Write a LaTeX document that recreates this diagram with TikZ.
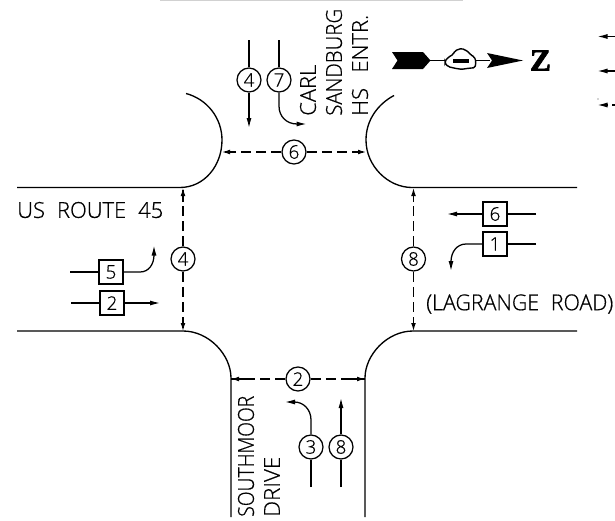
\documentclass[tikz,border=0pt]{standalone}
\usepackage{fontspec}
\usepackage{graphicx}
\usetikzlibrary{arrows.meta,calc}
\setmainfont{Open Sans}[UprightFont=* Light,UprightFeatures={FakeBold=0.6}]
\newfontfamily\zfont{Liberation Serif}[UprightFont=* Bold,UprightFeatures={FakeBold=2}]
\newlength{\pxu}\setlength{\pxu}{0.75pt}
\newcommand{\cadt}[2]{\resizebox{#1\pxu}{\height}{#2}}
\tikzset{
  x=0.75pt,y=-0.75pt,
  road/.style={line width=1pt,black},
  lane/.style={line width=0.95pt,black},
  mv/.style={lane,-{Latex[length=7.5pt,width=3.8pt]}},
  cross/.style={line width=0.85pt,black,dash pattern=on 7.5pt off 4pt},
  crosstip/.style={line width=0.85pt,black,-{Latex[length=6pt,width=3.6pt]}},
  phase/.style={circle,draw,line width=0.95pt,fill=white,minimum size=18pt,inner sep=0pt,font=\fontsize{14pt}{15pt}\selectfont},
  sq/.style={rectangle,draw,line width=0.95pt,fill=white,minimum size=18pt,inner sep=0pt,font=\fontsize{14pt}{15pt}\selectfont},
  lab/.style={inner sep=0pt,font=\fontsize{16.5pt}{17pt}\selectfont},
  vlab/.style={lab,rotate=90,anchor=west},
}
\begin{document}
\begin{tikzpicture}
\useasboundingbox (0,0) rectangle (615,521);
\fill[white] (0,0) rectangle (615,521);
\coordinate (topA) at (160,0.7); \coordinate (topB) at (463,0.7);
\draw[line width=1pt,black!18] (topA) -- (topB);

% curbs
\draw[road] (17,187.5) -- (180,187.5) .. controls (204,187.5) and (222,166) .. (222,140) .. controls (222,118) and (207,99) .. (186,93.5);
\draw[road] (577,187.5) -- (412,187.5) .. controls (388,187.5) and (366,166) .. (366,140) .. controls (366,120) and (378,104) .. (394,95.5);
\draw[road] (17,331) -- (183,331) .. controls (209,331) and (231,355) .. (231,378) -- (231,517);
\draw[road] (577,331) -- (413,331) .. controls (387,331) and (365,355) .. (365,378) -- (365,517);

% pedestrian crossings
\coordinate (cN1) at (222,152); \coordinate (cN2) at (366,152);
\coordinate (cW1) at (183,188); \coordinate (cW2) at (183,331);
\coordinate (cE1) at (413.5,188); \coordinate (cE2) at (413.5,331);
\coordinate (cS1) at (231,379); \coordinate (cS2) at (365,379);
\node[phase] (pN) at (294,152) {6};
\node[phase] (pW) at (183,259) {4};
\node[phase] (pE) at (413.5,259) {8};
\node[phase] (pS) at (298,379) {2};
\foreach \a/\b in {cN1/pN,cN2/pN,cW1/pW,cW2/pW,cE1/pE,cE2/pE,cS1/pS,cS2/pS}{
  \draw[cross] (\b) -- (\a);
  \draw[crosstip] ($(\a)!14\pxu!(\b)$) -- (\a);
}

% north approach
\node[phase] (n4) at (249,80) {4};
\node[phase] (n7) at (279,80) {7};
\coordinate (n4a) at (249,40); \coordinate (n4b) at (249,128);
\coordinate (n7a) at (279,40); \coordinate (n7b) at (306.5,124);
\draw[lane] (n4a) -- (n4);
\draw[mv] (n4) -- (n4b);
\draw[lane] (n7a) -- (n7);
\draw[mv] (n7) -- (279,106) .. controls (279,117) and (287,124) .. (n7b);

% south approach
\node[phase] (s3) at (311,447) {3};
\node[phase] (s8) at (341,447) {8};
\coordinate (s3a) at (311,487); \coordinate (s8a) at (341,487);
\coordinate (s3b) at (285,402); \coordinate (s8b) at (341,398);
\draw[lane] (s3a) -- (s3);
\draw[lane] (s8a) -- (s8);
\draw[mv] (s8) -- (s8b);
\draw[mv] (s3) -- (311,420) .. controls (311,409) and (303,402) .. (s3b);

% west approach
\node[sq] (w5) at (111,272) {5};
\node[sq] (w2) at (112,303) {2};
\coordinate (w5a) at (70,272); \coordinate (w2a) at (71,303);
\coordinate (w5b) at (154,245.5); \coordinate (w2b) at (160,303);
\draw[lane] (w5a) -- (w5);
\draw[lane] (w2a) -- (w2);
\draw[mv] (w2) -- (w2b);
\draw[mv] (w5) -- (140,272) .. controls (149,272) and (154,264) .. (w5b);

% east approach
\node[sq] (e6) at (495,214) {6};
\node[sq] (e1) at (495,244) {1};
\coordinate (e6a) at (536,214); \coordinate (e1a) at (536,244);
\coordinate (e6b) at (447,214); \coordinate (e1b) at (451,271);
\draw[lane] (e6a) -- (e6);
\draw[lane] (e1a) -- (e1);
\draw[mv] (e6) -- (e6b);
\draw[mv] (e1) -- (466,244) .. controls (457,244) and (451,252) .. (e1b);

% north arrow
\fill[black] (392,52) -- (423,52) -- (430.5,60.5) -- (423,69) -- (392,69) -- (397.5,60.5) -- cycle;
\draw[line width=0.9pt] (430,60.5) -- (446,60.5);
\draw[line width=0.9pt] (476,60.5) -- (490,60.5);
\draw[line width=1.05pt,fill=white,rounded corners=1.2pt] (445,61) -- (448.3,57.3) -- (453.3,54.3) -- (455,50.7) -- (461.7,48.3) -- (468.3,51.7) -- (470.7,55) -- (474.3,56.7) -- (476,61.7) -- (475,67.7) -- (468.3,68.3) -- (461.7,69.3) -- (455,68.3) -- (448.3,66.7) -- (445,63.3) -- cycle;
\fill[black] (453,58.5) rectangle (469,63);
\fill[black] (487,53) -- (523,60.5) -- (487,68) -- (492,60.5) -- cycle;
\node[inner sep=0pt,font=\zfont\fontsize{23pt}{24pt}\selectfont] (zz) at (540.5,60.5) {\cadt{21}{Z}};

% legend stubs at right edge
\coordinate (l1a) at (615,36.5); \coordinate (l1b) at (597.5,36.5);
\coordinate (l2a) at (615,71); \coordinate (l2b) at (597.5,71);
\coordinate (l3a) at (608,105); \coordinate (l3b) at (597.5,105);
\coordinate (l3c) at (612,105); \coordinate (l3d) at (615,105);
\draw[mv] (l1a) -- (l1b);
\draw[mv] (l2a) -- (l2b);
\draw[mv] (l3a) -- (l3b);
\draw[lane] (l3c) -- (l3d);
\fill[black!70] (598,99) circle (0.7);

% labels
\node[vlab] (tCarl) at (308,116) {\cadt{51}{CARL}};
\node[vlab] (tSand) at (334,116) {\cadt{107}{SANDBURG}};
\node[vlab] (tHs) at (360,116) {\cadt{101}{HS\hspace{.7em}ENTR.}};
\node[vlab] (tSouth) at (246,517) {\cadt{121}{SOUTHMOOR}};
\node[vlab] (tDrive) at (272,517) {\cadt{60}{DRIVE}};
\node[lab,anchor=west] (tUs) at (17,210) {\cadt{146}{US\hspace{.55em}ROUTE\hspace{.55em}45}};
\node[lab,anchor=west] (tLa) at (426,304) {\cadt{187}{(LAGRANGE\hspace{.55em}ROAD)}};
\end{tikzpicture}
\end{document}
